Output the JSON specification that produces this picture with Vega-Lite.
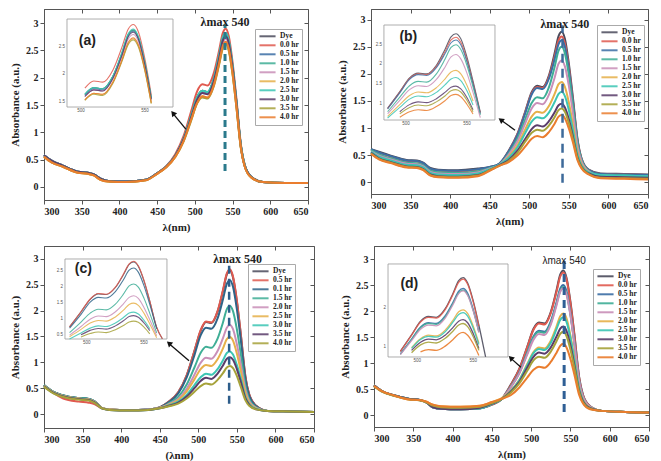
{
  "$schema": "https://vega.github.io/schema/vega-lite/v6.json",
  "padding": {"left": 9, "top": 8, "right": 3, "bottom": 3},
  "background": "white",
  "config": {
    "view": {"stroke": "#555", "strokeWidth": 1},
    "axis": {"labelFont": "Liberation Serif", "labelFontWeight": "bold", "labelFontSize": 10, "labelColor": "#222", "titleFont": "Liberation Serif", "titleFontWeight": "bold", "titleFontSize": 11, "titleColor": "#222", "grid": false, "domainColor": "#555", "tickColor": "#555", "tickSize": 4, "labelPadding": 2, "titlePadding": 5},
    "legend": {"labelFont": "Liberation Serif", "labelFontWeight": "bold", "labelFontSize": 7.5, "labelColor": "#222", "symbolType": "stroke", "symbolStrokeWidth": 2, "symbolSize": 260, "clipHeight": 8.6, "padding": 3, "strokeColor": "#aaa", "fillColor": "#fff", "rowPadding": 0, "labelOffset": 3}
  },
  "datasets": {
    "a": [
      {"wl":300,"Dye":0.58,"0_0 hr":0.58,"0_5 hr":0.58,"1_0 hr":0.58,"1_5 hr":0.58,"2_0 hr":0.55,"2_5 hr":0.58,"3_0 hr":0.58,"3_5 hr":0.55,"4_0 hr":0.55},
      {"wl":310,"Dye":0.48,"0_0 hr":0.48,"0_5 hr":0.48,"1_0 hr":0.48,"1_5 hr":0.48,"2_0 hr":0.45,"2_5 hr":0.48,"3_0 hr":0.48,"3_5 hr":0.45,"4_0 hr":0.45},
      {"wl":325,"Dye":0.39,"0_0 hr":0.39,"0_5 hr":0.39,"1_0 hr":0.39,"1_5 hr":0.39,"2_0 hr":0.37,"2_5 hr":0.39,"3_0 hr":0.39,"3_5 hr":0.37,"4_0 hr":0.37},
      {"wl":345,"Dye":0.28,"0_0 hr":0.28,"0_5 hr":0.28,"1_0 hr":0.28,"1_5 hr":0.28,"2_0 hr":0.26,"2_5 hr":0.28,"3_0 hr":0.28,"3_5 hr":0.26,"4_0 hr":0.26},
      {"wl":358,"Dye":0.26,"0_0 hr":0.26,"0_5 hr":0.26,"1_0 hr":0.26,"1_5 hr":0.26,"2_0 hr":0.24,"2_5 hr":0.26,"3_0 hr":0.26,"3_5 hr":0.24,"4_0 hr":0.24},
      {"wl":366,"Dye":0.23,"0_0 hr":0.23,"0_5 hr":0.23,"1_0 hr":0.23,"1_5 hr":0.23,"2_0 hr":0.21,"2_5 hr":0.23,"3_0 hr":0.23,"3_5 hr":0.21,"4_0 hr":0.21},
      {"wl":375,"Dye":0.15,"0_0 hr":0.15,"0_5 hr":0.15,"1_0 hr":0.15,"1_5 hr":0.15,"2_0 hr":0.13,"2_5 hr":0.15,"3_0 hr":0.15,"3_5 hr":0.13,"4_0 hr":0.13},
      {"wl":385,"Dye":0.11,"0_0 hr":0.11,"0_5 hr":0.11,"1_0 hr":0.11,"1_5 hr":0.11,"2_0 hr":0.10,"2_5 hr":0.11,"3_0 hr":0.11,"3_5 hr":0.10,"4_0 hr":0.10},
      {"wl":410,"Dye":0.10,"0_0 hr":0.10,"0_5 hr":0.10,"1_0 hr":0.10,"1_5 hr":0.10,"2_0 hr":0.09,"2_5 hr":0.10,"3_0 hr":0.10,"3_5 hr":0.09,"4_0 hr":0.09},
      {"wl":435,"Dye":0.13,"0_0 hr":0.13,"0_5 hr":0.13,"1_0 hr":0.13,"1_5 hr":0.13,"2_0 hr":0.12,"2_5 hr":0.13,"3_0 hr":0.13,"3_5 hr":0.12,"4_0 hr":0.12},
      {"wl":450,"Dye":0.25,"0_0 hr":0.25,"0_5 hr":0.25,"1_0 hr":0.25,"1_5 hr":0.25,"2_0 hr":0.24,"2_5 hr":0.25,"3_0 hr":0.25,"3_5 hr":0.24,"4_0 hr":0.24},
      {"wl":462,"Dye":0.37,"0_0 hr":0.38,"0_5 hr":0.37,"1_0 hr":0.37,"1_5 hr":0.37,"2_0 hr":0.36,"2_5 hr":0.37,"3_0 hr":0.37,"3_5 hr":0.36,"4_0 hr":0.36},
      {"wl":474,"Dye":0.57,"0_0 hr":0.60,"0_5 hr":0.57,"1_0 hr":0.57,"1_5 hr":0.57,"2_0 hr":0.55,"2_5 hr":0.57,"3_0 hr":0.57,"3_5 hr":0.55,"4_0 hr":0.55},
      {"wl":485,"Dye":0.88,"0_0 hr":0.93,"0_5 hr":0.87,"1_0 hr":0.88,"1_5 hr":0.87,"2_0 hr":0.84,"2_5 hr":0.88,"3_0 hr":0.87,"3_5 hr":0.83,"4_0 hr":0.84},
      {"wl":495,"Dye":1.30,"0_0 hr":1.38,"0_5 hr":1.28,"1_0 hr":1.30,"1_5 hr":1.27,"2_0 hr":1.23,"2_5 hr":1.30,"3_0 hr":1.27,"3_5 hr":1.21,"4_0 hr":1.23},
      {"wl":503,"Dye":1.64,"0_0 hr":1.75,"0_5 hr":1.62,"1_0 hr":1.64,"1_5 hr":1.60,"2_0 hr":1.54,"2_5 hr":1.64,"3_0 hr":1.60,"3_5 hr":1.53,"4_0 hr":1.54},
      {"wl":510,"Dye":1.76,"0_0 hr":1.88,"0_5 hr":1.74,"1_0 hr":1.76,"1_5 hr":1.72,"2_0 hr":1.66,"2_5 hr":1.76,"3_0 hr":1.72,"3_5 hr":1.64,"4_0 hr":1.66},
      {"wl":517,"Dye":1.74,"0_0 hr":1.86,"0_5 hr":1.72,"1_0 hr":1.74,"1_5 hr":1.70,"2_0 hr":1.64,"2_5 hr":1.74,"3_0 hr":1.70,"3_5 hr":1.62,"4_0 hr":1.64},
      {"wl":525,"Dye":1.97,"0_0 hr":2.08,"0_5 hr":1.95,"1_0 hr":1.97,"1_5 hr":1.92,"2_0 hr":1.86,"2_5 hr":1.97,"3_0 hr":1.93,"3_5 hr":1.84,"4_0 hr":1.86},
      {"wl":532,"Dye":2.38,"0_0 hr":2.49,"0_5 hr":2.36,"1_0 hr":2.38,"1_5 hr":2.32,"2_0 hr":2.25,"2_5 hr":2.40,"3_0 hr":2.34,"3_5 hr":2.23,"4_0 hr":2.26},
      {"wl":537,"Dye":2.72,"0_0 hr":2.82,"0_5 hr":2.70,"1_0 hr":2.72,"1_5 hr":2.64,"2_0 hr":2.56,"2_5 hr":2.74,"3_0 hr":2.68,"3_5 hr":2.54,"4_0 hr":2.58},
      {"wl":541,"Dye":2.80,"0_0 hr":2.90,"0_5 hr":2.78,"1_0 hr":2.80,"1_5 hr":2.72,"2_0 hr":2.64,"2_5 hr":2.82,"3_0 hr":2.76,"3_5 hr":2.62,"4_0 hr":2.66},
      {"wl":545,"Dye":2.66,"0_0 hr":2.76,"0_5 hr":2.64,"1_0 hr":2.66,"1_5 hr":2.59,"2_0 hr":2.51,"2_5 hr":2.68,"3_0 hr":2.63,"3_5 hr":2.49,"4_0 hr":2.53},
      {"wl":550,"Dye":2.20,"0_0 hr":2.28,"0_5 hr":2.18,"1_0 hr":2.20,"1_5 hr":2.14,"2_0 hr":2.07,"2_5 hr":2.22,"3_0 hr":2.17,"3_5 hr":2.06,"4_0 hr":2.09},
      {"wl":555,"Dye":1.57,"0_0 hr":1.63,"0_5 hr":1.56,"1_0 hr":1.57,"1_5 hr":1.53,"2_0 hr":1.48,"2_5 hr":1.58,"3_0 hr":1.55,"3_5 hr":1.47,"4_0 hr":1.49},
      {"wl":561,"Dye":0.75,"0_0 hr":0.78,"0_5 hr":0.75,"1_0 hr":0.75,"1_5 hr":0.73,"2_0 hr":0.71,"2_5 hr":0.76,"3_0 hr":0.74,"3_5 hr":0.71,"4_0 hr":0.72},
      {"wl":566,"Dye":0.40,"0_0 hr":0.41,"0_5 hr":0.40,"1_0 hr":0.40,"1_5 hr":0.39,"2_0 hr":0.38,"2_5 hr":0.40,"3_0 hr":0.39,"3_5 hr":0.38,"4_0 hr":0.38},
      {"wl":575,"Dye":0.18,"0_0 hr":0.18,"0_5 hr":0.18,"1_0 hr":0.18,"1_5 hr":0.18,"2_0 hr":0.17,"2_5 hr":0.18,"3_0 hr":0.18,"3_5 hr":0.17,"4_0 hr":0.17},
      {"wl":590,"Dye":0.09,"0_0 hr":0.09,"0_5 hr":0.09,"1_0 hr":0.09,"1_5 hr":0.09,"2_0 hr":0.09,"2_5 hr":0.09,"3_0 hr":0.09,"3_5 hr":0.09,"4_0 hr":0.09},
      {"wl":620,"Dye":0.07,"0_0 hr":0.07,"0_5 hr":0.07,"1_0 hr":0.07,"1_5 hr":0.07,"2_0 hr":0.07,"2_5 hr":0.07,"3_0 hr":0.07,"3_5 hr":0.07,"4_0 hr":0.07},
      {"wl":650,"Dye":0.07,"0_0 hr":0.07,"0_5 hr":0.07,"1_0 hr":0.07,"1_5 hr":0.07,"2_0 hr":0.07,"2_5 hr":0.07,"3_0 hr":0.07,"3_5 hr":0.07,"4_0 hr":0.07}
    ],
    "b": [
      {"wl":300,"Dye":0.61,"0_0 hr":0.60,"0_5 hr":0.61,"1_0 hr":0.59,"1_5 hr":0.57,"2_0 hr":0.55,"2_5 hr":0.56,"3_0 hr":0.54,"3_5 hr":0.53,"4_0 hr":0.52},
      {"wl":310,"Dye":0.56,"0_0 hr":0.54,"0_5 hr":0.55,"1_0 hr":0.51,"1_5 hr":0.49,"2_0 hr":0.45,"2_5 hr":0.47,"3_0 hr":0.44,"3_5 hr":0.43,"4_0 hr":0.42},
      {"wl":325,"Dye":0.49,"0_0 hr":0.47,"0_5 hr":0.48,"1_0 hr":0.44,"1_5 hr":0.42,"2_0 hr":0.38,"2_5 hr":0.40,"3_0 hr":0.37,"3_5 hr":0.36,"4_0 hr":0.35},
      {"wl":345,"Dye":0.41,"0_0 hr":0.39,"0_5 hr":0.40,"1_0 hr":0.36,"1_5 hr":0.34,"2_0 hr":0.30,"2_5 hr":0.32,"3_0 hr":0.29,"3_5 hr":0.28,"4_0 hr":0.27},
      {"wl":358,"Dye":0.40,"0_0 hr":0.38,"0_5 hr":0.39,"1_0 hr":0.35,"1_5 hr":0.33,"2_0 hr":0.29,"2_5 hr":0.31,"3_0 hr":0.28,"3_5 hr":0.27,"4_0 hr":0.26},
      {"wl":366,"Dye":0.36,"0_0 hr":0.34,"0_5 hr":0.35,"1_0 hr":0.31,"1_5 hr":0.29,"2_0 hr":0.25,"2_5 hr":0.27,"3_0 hr":0.24,"3_5 hr":0.23,"4_0 hr":0.22},
      {"wl":375,"Dye":0.26,"0_0 hr":0.24,"0_5 hr":0.25,"1_0 hr":0.21,"1_5 hr":0.19,"2_0 hr":0.15,"2_5 hr":0.17,"3_0 hr":0.14,"3_5 hr":0.13,"4_0 hr":0.12},
      {"wl":385,"Dye":0.23,"0_0 hr":0.21,"0_5 hr":0.22,"1_0 hr":0.18,"1_5 hr":0.16,"2_0 hr":0.12,"2_5 hr":0.14,"3_0 hr":0.11,"3_5 hr":0.10,"4_0 hr":0.09},
      {"wl":410,"Dye":0.22,"0_0 hr":0.20,"0_5 hr":0.21,"1_0 hr":0.17,"1_5 hr":0.15,"2_0 hr":0.11,"2_5 hr":0.13,"3_0 hr":0.10,"3_5 hr":0.09,"4_0 hr":0.08},
      {"wl":435,"Dye":0.25,"0_0 hr":0.23,"0_5 hr":0.24,"1_0 hr":0.20,"1_5 hr":0.18,"2_0 hr":0.14,"2_5 hr":0.16,"3_0 hr":0.13,"3_5 hr":0.12,"4_0 hr":0.11},
      {"wl":450,"Dye":0.28,"0_0 hr":0.27,"0_5 hr":0.28,"1_0 hr":0.26,"1_5 hr":0.25,"2_0 hr":0.23,"2_5 hr":0.24,"3_0 hr":0.22,"3_5 hr":0.22,"4_0 hr":0.21},
      {"wl":462,"Dye":0.34,"0_0 hr":0.33,"0_5 hr":0.34,"1_0 hr":0.32,"1_5 hr":0.32,"2_0 hr":0.31,"2_5 hr":0.32,"3_0 hr":0.31,"3_5 hr":0.30,"4_0 hr":0.30},
      {"wl":474,"Dye":0.58,"0_0 hr":0.57,"0_5 hr":0.57,"1_0 hr":0.53,"1_5 hr":0.51,"2_0 hr":0.47,"2_5 hr":0.45,"3_0 hr":0.41,"3_5 hr":0.39,"4_0 hr":0.37},
      {"wl":485,"Dye":0.89,"0_0 hr":0.88,"0_5 hr":0.87,"1_0 hr":0.80,"1_5 hr":0.75,"2_0 hr":0.68,"2_5 hr":0.64,"3_0 hr":0.58,"3_5 hr":0.54,"4_0 hr":0.49},
      {"wl":495,"Dye":1.31,"0_0 hr":1.30,"0_5 hr":1.28,"1_0 hr":1.17,"1_5 hr":1.09,"2_0 hr":0.98,"2_5 hr":0.91,"3_0 hr":0.80,"3_5 hr":0.75,"4_0 hr":0.66},
      {"wl":503,"Dye":1.66,"0_0 hr":1.64,"0_5 hr":1.62,"1_0 hr":1.46,"1_5 hr":1.36,"2_0 hr":1.21,"2_5 hr":1.12,"3_0 hr":0.98,"3_5 hr":0.91,"4_0 hr":0.80},
      {"wl":510,"Dye":1.78,"0_0 hr":1.76,"0_5 hr":1.74,"1_0 hr":1.57,"1_5 hr":1.46,"2_0 hr":1.30,"2_5 hr":1.20,"3_0 hr":1.05,"3_5 hr":0.97,"4_0 hr":0.85},
      {"wl":517,"Dye":1.76,"0_0 hr":1.74,"0_5 hr":1.72,"1_0 hr":1.55,"1_5 hr":1.44,"2_0 hr":1.28,"2_5 hr":1.18,"3_0 hr":1.03,"3_5 hr":0.95,"4_0 hr":0.83},
      {"wl":525,"Dye":1.98,"0_0 hr":1.95,"0_5 hr":1.92,"1_0 hr":1.76,"1_5 hr":1.62,"2_0 hr":1.41,"2_5 hr":1.29,"3_0 hr":1.13,"3_5 hr":1.05,"4_0 hr":0.93},
      {"wl":532,"Dye":2.38,"0_0 hr":2.32,"0_5 hr":2.27,"1_0 hr":2.13,"1_5 hr":1.93,"2_0 hr":1.63,"2_5 hr":1.48,"3_0 hr":1.29,"3_5 hr":1.20,"4_0 hr":1.08},
      {"wl":537,"Dye":2.70,"0_0 hr":2.62,"0_5 hr":2.55,"1_0 hr":2.43,"1_5 hr":2.19,"2_0 hr":1.81,"2_5 hr":1.63,"3_0 hr":1.42,"3_5 hr":1.33,"4_0 hr":1.21},
      {"wl":541,"Dye":2.78,"0_0 hr":2.69,"0_5 hr":2.62,"1_0 hr":2.50,"1_5 hr":2.25,"2_0 hr":1.85,"2_5 hr":1.67,"3_0 hr":1.45,"3_5 hr":1.36,"4_0 hr":1.24},
      {"wl":545,"Dye":2.65,"0_0 hr":2.56,"0_5 hr":2.50,"1_0 hr":2.38,"1_5 hr":2.14,"2_0 hr":1.76,"2_5 hr":1.59,"3_0 hr":1.38,"3_5 hr":1.30,"4_0 hr":1.18},
      {"wl":550,"Dye":2.19,"0_0 hr":2.12,"0_5 hr":2.07,"1_0 hr":1.98,"1_5 hr":1.78,"2_0 hr":1.47,"2_5 hr":1.33,"3_0 hr":1.16,"3_5 hr":1.09,"4_0 hr":0.99},
      {"wl":555,"Dye":1.58,"0_0 hr":1.53,"0_5 hr":1.50,"1_0 hr":1.43,"1_5 hr":1.29,"2_0 hr":1.07,"2_5 hr":0.97,"3_0 hr":0.85,"3_5 hr":0.80,"4_0 hr":0.74},
      {"wl":561,"Dye":0.79,"0_0 hr":0.76,"0_5 hr":0.75,"1_0 hr":0.72,"1_5 hr":0.65,"2_0 hr":0.55,"2_5 hr":0.51,"3_0 hr":0.45,"3_5 hr":0.43,"4_0 hr":0.40},
      {"wl":566,"Dye":0.44,"0_0 hr":0.43,"0_5 hr":0.42,"1_0 hr":0.41,"1_5 hr":0.38,"2_0 hr":0.33,"2_5 hr":0.31,"3_0 hr":0.28,"3_5 hr":0.27,"4_0 hr":0.25},
      {"wl":575,"Dye":0.23,"0_0 hr":0.22,"0_5 hr":0.22,"1_0 hr":0.21,"1_5 hr":0.20,"2_0 hr":0.18,"2_5 hr":0.18,"3_0 hr":0.16,"3_5 hr":0.15,"4_0 hr":0.14},
      {"wl":590,"Dye":0.16,"0_0 hr":0.15,"0_5 hr":0.15,"1_0 hr":0.13,"1_5 hr":0.12,"2_0 hr":0.10,"2_5 hr":0.13,"3_0 hr":0.10,"3_5 hr":0.08,"4_0 hr":0.07},
      {"wl":620,"Dye":0.15,"0_0 hr":0.14,"0_5 hr":0.14,"1_0 hr":0.12,"1_5 hr":0.11,"2_0 hr":0.09,"2_5 hr":0.12,"3_0 hr":0.09,"3_5 hr":0.07,"4_0 hr":0.06},
      {"wl":650,"Dye":0.14,"0_0 hr":0.13,"0_5 hr":0.13,"1_0 hr":0.11,"1_5 hr":0.10,"2_0 hr":0.08,"2_5 hr":0.11,"3_0 hr":0.08,"3_5 hr":0.06,"4_0 hr":0.05}
    ],
    "c": [
      {"wl":300,"Dye":0.56,"0_5 hr":0.55,"0_1 hr":0.56,"1_5 hr":0.56,"2_0 hr":0.55,"2_5 hr":0.55,"3_0 hr":0.54,"3_5 hr":0.54,"4_0 hr":0.53},
      {"wl":310,"Dye":0.45,"0_5 hr":0.43,"0_1 hr":0.45,"1_5 hr":0.45,"2_0 hr":0.44,"2_5 hr":0.44,"3_0 hr":0.43,"3_5 hr":0.43,"4_0 hr":0.42},
      {"wl":325,"Dye":0.36,"0_5 hr":0.30,"0_1 hr":0.36,"1_5 hr":0.36,"2_0 hr":0.35,"2_5 hr":0.35,"3_0 hr":0.34,"3_5 hr":0.34,"4_0 hr":0.33},
      {"wl":345,"Dye":0.31,"0_5 hr":0.24,"0_1 hr":0.31,"1_5 hr":0.31,"2_0 hr":0.30,"2_5 hr":0.30,"3_0 hr":0.29,"3_5 hr":0.29,"4_0 hr":0.28},
      {"wl":358,"Dye":0.29,"0_5 hr":0.22,"0_1 hr":0.29,"1_5 hr":0.29,"2_0 hr":0.28,"2_5 hr":0.28,"3_0 hr":0.27,"3_5 hr":0.27,"4_0 hr":0.26},
      {"wl":366,"Dye":0.24,"0_5 hr":0.19,"0_1 hr":0.24,"1_5 hr":0.24,"2_0 hr":0.23,"2_5 hr":0.23,"3_0 hr":0.22,"3_5 hr":0.22,"4_0 hr":0.21},
      {"wl":375,"Dye":0.12,"0_5 hr":0.11,"0_1 hr":0.12,"1_5 hr":0.12,"2_0 hr":0.12,"2_5 hr":0.12,"3_0 hr":0.11,"3_5 hr":0.11,"4_0 hr":0.11},
      {"wl":385,"Dye":0.09,"0_5 hr":0.09,"0_1 hr":0.09,"1_5 hr":0.09,"2_0 hr":0.09,"2_5 hr":0.09,"3_0 hr":0.08,"3_5 hr":0.08,"4_0 hr":0.08},
      {"wl":410,"Dye":0.08,"0_5 hr":0.08,"0_1 hr":0.08,"1_5 hr":0.08,"2_0 hr":0.08,"2_5 hr":0.08,"3_0 hr":0.07,"3_5 hr":0.07,"4_0 hr":0.07},
      {"wl":435,"Dye":0.09,"0_5 hr":0.09,"0_1 hr":0.09,"1_5 hr":0.09,"2_0 hr":0.09,"2_5 hr":0.08,"3_0 hr":0.08,"3_5 hr":0.08,"4_0 hr":0.08},
      {"wl":450,"Dye":0.13,"0_5 hr":0.13,"0_1 hr":0.13,"1_5 hr":0.12,"2_0 hr":0.12,"2_5 hr":0.12,"3_0 hr":0.11,"3_5 hr":0.11,"4_0 hr":0.11},
      {"wl":462,"Dye":0.24,"0_5 hr":0.24,"0_1 hr":0.23,"1_5 hr":0.21,"2_0 hr":0.19,"2_5 hr":0.18,"3_0 hr":0.17,"3_5 hr":0.16,"4_0 hr":0.15},
      {"wl":474,"Dye":0.42,"0_5 hr":0.42,"0_1 hr":0.40,"1_5 hr":0.33,"2_0 hr":0.29,"2_5 hr":0.27,"3_0 hr":0.24,"3_5 hr":0.22,"4_0 hr":0.20},
      {"wl":485,"Dye":0.75,"0_5 hr":0.75,"0_1 hr":0.71,"1_5 hr":0.57,"2_0 hr":0.49,"2_5 hr":0.44,"3_0 hr":0.37,"3_5 hr":0.34,"4_0 hr":0.30},
      {"wl":495,"Dye":1.22,"0_5 hr":1.22,"0_1 hr":1.14,"1_5 hr":0.90,"2_0 hr":0.76,"2_5 hr":0.67,"3_0 hr":0.56,"3_5 hr":0.50,"4_0 hr":0.43},
      {"wl":503,"Dye":1.61,"0_5 hr":1.62,"0_1 hr":1.52,"1_5 hr":1.18,"2_0 hr":0.99,"2_5 hr":0.87,"3_0 hr":0.71,"3_5 hr":0.64,"4_0 hr":0.54},
      {"wl":510,"Dye":1.78,"0_5 hr":1.79,"0_1 hr":1.67,"1_5 hr":1.30,"2_0 hr":1.09,"2_5 hr":0.95,"3_0 hr":0.78,"3_5 hr":0.70,"4_0 hr":0.59},
      {"wl":517,"Dye":1.76,"0_5 hr":1.77,"0_1 hr":1.65,"1_5 hr":1.28,"2_0 hr":1.07,"2_5 hr":0.93,"3_0 hr":0.76,"3_5 hr":0.68,"4_0 hr":0.57},
      {"wl":525,"Dye":1.98,"0_5 hr":1.99,"0_1 hr":1.85,"1_5 hr":1.46,"2_0 hr":1.22,"2_5 hr":1.06,"3_0 hr":0.87,"3_5 hr":0.78,"4_0 hr":0.66},
      {"wl":532,"Dye":2.38,"0_5 hr":2.40,"0_1 hr":2.22,"1_5 hr":1.77,"2_0 hr":1.47,"2_5 hr":1.27,"3_0 hr":1.04,"3_5 hr":0.94,"4_0 hr":0.79},
      {"wl":537,"Dye":2.70,"0_5 hr":2.72,"0_1 hr":2.52,"1_5 hr":2.03,"2_0 hr":1.67,"2_5 hr":1.45,"3_0 hr":1.18,"3_5 hr":1.07,"4_0 hr":0.90},
      {"wl":541,"Dye":2.78,"0_5 hr":2.80,"0_1 hr":2.59,"1_5 hr":2.09,"2_0 hr":1.72,"2_5 hr":1.49,"3_0 hr":1.21,"3_5 hr":1.10,"4_0 hr":0.93},
      {"wl":545,"Dye":2.64,"0_5 hr":2.66,"0_1 hr":2.46,"1_5 hr":1.99,"2_0 hr":1.64,"2_5 hr":1.42,"3_0 hr":1.15,"3_5 hr":1.05,"4_0 hr":0.89},
      {"wl":550,"Dye":2.18,"0_5 hr":2.20,"0_1 hr":2.03,"1_5 hr":1.64,"2_0 hr":1.35,"2_5 hr":1.17,"3_0 hr":0.95,"3_5 hr":0.87,"4_0 hr":0.74},
      {"wl":555,"Dye":1.55,"0_5 hr":1.56,"0_1 hr":1.45,"1_5 hr":1.17,"2_0 hr":0.97,"2_5 hr":0.84,"3_0 hr":0.69,"3_5 hr":0.63,"4_0 hr":0.53},
      {"wl":561,"Dye":0.73,"0_5 hr":0.74,"0_1 hr":0.69,"1_5 hr":0.56,"2_0 hr":0.47,"2_5 hr":0.41,"3_0 hr":0.34,"3_5 hr":0.31,"4_0 hr":0.27},
      {"wl":566,"Dye":0.38,"0_5 hr":0.38,"0_1 hr":0.35,"1_5 hr":0.29,"2_0 hr":0.25,"2_5 hr":0.22,"3_0 hr":0.19,"3_5 hr":0.18,"4_0 hr":0.16},
      {"wl":575,"Dye":0.16,"0_5 hr":0.16,"0_1 hr":0.15,"1_5 hr":0.13,"2_0 hr":0.12,"2_5 hr":0.11,"3_0 hr":0.10,"3_5 hr":0.09,"4_0 hr":0.09},
      {"wl":590,"Dye":0.06,"0_5 hr":0.06,"0_1 hr":0.06,"1_5 hr":0.06,"2_0 hr":0.06,"2_5 hr":0.06,"3_0 hr":0.06,"3_5 hr":0.06,"4_0 hr":0.06},
      {"wl":620,"Dye":0.05,"0_5 hr":0.05,"0_1 hr":0.05,"1_5 hr":0.05,"2_0 hr":0.05,"2_5 hr":0.05,"3_0 hr":0.05,"3_5 hr":0.05,"4_0 hr":0.05},
      {"wl":650,"Dye":0.04,"0_5 hr":0.04,"0_1 hr":0.04,"1_5 hr":0.04,"2_0 hr":0.04,"2_5 hr":0.04,"3_0 hr":0.04,"3_5 hr":0.04,"4_0 hr":0.04}
    ],
    "d": [
      {"wl":300,"Dye":0.57,"0_0 hr":0.57,"0_5 hr":0.57,"1_0 hr":0.57,"1_5 hr":0.57,"2_0 hr":0.57,"2_5 hr":0.57,"3_0 hr":0.57,"3_5 hr":0.55,"4_0 hr":0.56},
      {"wl":310,"Dye":0.46,"0_0 hr":0.46,"0_5 hr":0.46,"1_0 hr":0.46,"1_5 hr":0.46,"2_0 hr":0.46,"2_5 hr":0.46,"3_0 hr":0.46,"3_5 hr":0.45,"4_0 hr":0.46},
      {"wl":325,"Dye":0.38,"0_0 hr":0.38,"0_5 hr":0.38,"1_0 hr":0.38,"1_5 hr":0.38,"2_0 hr":0.38,"2_5 hr":0.38,"3_0 hr":0.38,"3_5 hr":0.37,"4_0 hr":0.38},
      {"wl":345,"Dye":0.31,"0_0 hr":0.31,"0_5 hr":0.31,"1_0 hr":0.31,"1_5 hr":0.31,"2_0 hr":0.30,"2_5 hr":0.31,"3_0 hr":0.31,"3_5 hr":0.30,"4_0 hr":0.30},
      {"wl":358,"Dye":0.29,"0_0 hr":0.29,"0_5 hr":0.29,"1_0 hr":0.29,"1_5 hr":0.29,"2_0 hr":0.29,"2_5 hr":0.29,"3_0 hr":0.29,"3_5 hr":0.28,"4_0 hr":0.29},
      {"wl":366,"Dye":0.25,"0_0 hr":0.25,"0_5 hr":0.25,"1_0 hr":0.25,"1_5 hr":0.25,"2_0 hr":0.26,"2_5 hr":0.25,"3_0 hr":0.25,"3_5 hr":0.25,"4_0 hr":0.26},
      {"wl":375,"Dye":0.15,"0_0 hr":0.15,"0_5 hr":0.15,"1_0 hr":0.15,"1_5 hr":0.15,"2_0 hr":0.20,"2_5 hr":0.15,"3_0 hr":0.15,"3_5 hr":0.18,"4_0 hr":0.20},
      {"wl":385,"Dye":0.12,"0_0 hr":0.12,"0_5 hr":0.12,"1_0 hr":0.12,"1_5 hr":0.12,"2_0 hr":0.17,"2_5 hr":0.12,"3_0 hr":0.12,"3_5 hr":0.15,"4_0 hr":0.17},
      {"wl":410,"Dye":0.11,"0_0 hr":0.11,"0_5 hr":0.11,"1_0 hr":0.11,"1_5 hr":0.11,"2_0 hr":0.16,"2_5 hr":0.11,"3_0 hr":0.11,"3_5 hr":0.14,"4_0 hr":0.16},
      {"wl":435,"Dye":0.13,"0_0 hr":0.13,"0_5 hr":0.13,"1_0 hr":0.13,"1_5 hr":0.14,"2_0 hr":0.18,"2_5 hr":0.13,"3_0 hr":0.14,"3_5 hr":0.16,"4_0 hr":0.18},
      {"wl":450,"Dye":0.20,"0_0 hr":0.20,"0_5 hr":0.21,"1_0 hr":0.21,"1_5 hr":0.22,"2_0 hr":0.25,"2_5 hr":0.21,"3_0 hr":0.22,"3_5 hr":0.23,"4_0 hr":0.25},
      {"wl":462,"Dye":0.30,"0_0 hr":0.30,"0_5 hr":0.30,"1_0 hr":0.30,"1_5 hr":0.31,"2_0 hr":0.32,"2_5 hr":0.30,"3_0 hr":0.30,"3_5 hr":0.30,"4_0 hr":0.31},
      {"wl":474,"Dye":0.58,"0_0 hr":0.57,"0_5 hr":0.54,"1_0 hr":0.54,"1_5 hr":0.53,"2_0 hr":0.47,"2_5 hr":0.46,"3_0 hr":0.45,"3_5 hr":0.43,"4_0 hr":0.38},
      {"wl":485,"Dye":0.89,"0_0 hr":0.88,"0_5 hr":0.82,"1_0 hr":0.81,"1_5 hr":0.80,"2_0 hr":0.68,"2_5 hr":0.67,"3_0 hr":0.64,"3_5 hr":0.61,"4_0 hr":0.53},
      {"wl":495,"Dye":1.31,"0_0 hr":1.30,"0_5 hr":1.20,"1_0 hr":1.19,"1_5 hr":1.16,"2_0 hr":0.98,"2_5 hr":0.96,"3_0 hr":0.91,"3_5 hr":0.85,"4_0 hr":0.72},
      {"wl":503,"Dye":1.66,"0_0 hr":1.64,"0_5 hr":1.51,"1_0 hr":1.49,"1_5 hr":1.45,"2_0 hr":1.21,"2_5 hr":1.19,"3_0 hr":1.12,"3_5 hr":1.05,"4_0 hr":0.87},
      {"wl":510,"Dye":1.78,"0_0 hr":1.76,"0_5 hr":1.62,"1_0 hr":1.60,"1_5 hr":1.56,"2_0 hr":1.30,"2_5 hr":1.27,"3_0 hr":1.20,"3_5 hr":1.12,"4_0 hr":0.93},
      {"wl":517,"Dye":1.76,"0_0 hr":1.74,"0_5 hr":1.60,"1_0 hr":1.58,"1_5 hr":1.54,"2_0 hr":1.28,"2_5 hr":1.25,"3_0 hr":1.18,"3_5 hr":1.10,"4_0 hr":0.91},
      {"wl":525,"Dye":1.98,"0_0 hr":1.96,"0_5 hr":1.80,"1_0 hr":1.77,"1_5 hr":1.74,"2_0 hr":1.43,"2_5 hr":1.39,"3_0 hr":1.30,"3_5 hr":1.22,"4_0 hr":1.02},
      {"wl":532,"Dye":2.38,"0_0 hr":2.35,"0_5 hr":2.15,"1_0 hr":2.12,"1_5 hr":2.09,"2_0 hr":1.69,"2_5 hr":1.64,"3_0 hr":1.50,"3_5 hr":1.41,"4_0 hr":1.19},
      {"wl":537,"Dye":2.70,"0_0 hr":2.66,"0_5 hr":2.43,"1_0 hr":2.39,"1_5 hr":2.37,"2_0 hr":1.90,"2_5 hr":1.83,"3_0 hr":1.66,"3_5 hr":1.56,"4_0 hr":1.33},
      {"wl":541,"Dye":2.78,"0_0 hr":2.74,"0_5 hr":2.50,"1_0 hr":2.46,"1_5 hr":2.44,"2_0 hr":1.95,"2_5 hr":1.88,"3_0 hr":1.70,"3_5 hr":1.60,"4_0 hr":1.37},
      {"wl":545,"Dye":2.64,"0_0 hr":2.61,"0_5 hr":2.38,"1_0 hr":2.34,"1_5 hr":2.32,"2_0 hr":1.86,"2_5 hr":1.79,"3_0 hr":1.62,"3_5 hr":1.52,"4_0 hr":1.30},
      {"wl":550,"Dye":2.18,"0_0 hr":2.15,"0_5 hr":1.96,"1_0 hr":1.93,"1_5 hr":1.92,"2_0 hr":1.53,"2_5 hr":1.48,"3_0 hr":1.34,"3_5 hr":1.26,"4_0 hr":1.08},
      {"wl":555,"Dye":1.56,"0_0 hr":1.53,"0_5 hr":1.40,"1_0 hr":1.38,"1_5 hr":1.37,"2_0 hr":1.10,"2_5 hr":1.06,"3_0 hr":0.96,"3_5 hr":0.91,"4_0 hr":0.78},
      {"wl":561,"Dye":0.74,"0_0 hr":0.73,"0_5 hr":0.67,"1_0 hr":0.66,"1_5 hr":0.66,"2_0 hr":0.53,"2_5 hr":0.52,"3_0 hr":0.47,"3_5 hr":0.45,"4_0 hr":0.39},
      {"wl":566,"Dye":0.39,"0_0 hr":0.38,"0_5 hr":0.35,"1_0 hr":0.35,"1_5 hr":0.35,"2_0 hr":0.29,"2_5 hr":0.28,"3_0 hr":0.26,"3_5 hr":0.24,"4_0 hr":0.22},
      {"wl":575,"Dye":0.17,"0_0 hr":0.17,"0_5 hr":0.16,"1_0 hr":0.16,"1_5 hr":0.16,"2_0 hr":0.14,"2_5 hr":0.13,"3_0 hr":0.13,"3_5 hr":0.12,"4_0 hr":0.11},
      {"wl":590,"Dye":0.08,"0_0 hr":0.08,"0_5 hr":0.08,"1_0 hr":0.08,"1_5 hr":0.08,"2_0 hr":0.08,"2_5 hr":0.08,"3_0 hr":0.08,"3_5 hr":0.08,"4_0 hr":0.08},
      {"wl":620,"Dye":0.06,"0_0 hr":0.06,"0_5 hr":0.06,"1_0 hr":0.06,"1_5 hr":0.06,"2_0 hr":0.06,"2_5 hr":0.06,"3_0 hr":0.06,"3_5 hr":0.06,"4_0 hr":0.06},
      {"wl":650,"Dye":0.05,"0_0 hr":0.05,"0_5 hr":0.05,"1_0 hr":0.05,"1_5 hr":0.05,"2_0 hr":0.05,"2_5 hr":0.05,"3_0 hr":0.05,"3_5 hr":0.05,"4_0 hr":0.05}
    ]
  },
  "vconcat": [
    {
      "hconcat": [
        {
          "width": 264, "height": 191,
          "data": {"name": "a"},
          "layer": [
            {
              "transform": [{"fold": ["Dye","0_0 hr","0_5 hr","1_0 hr","1_5 hr","2_0 hr","2_5 hr","3_0 hr","3_5 hr","4_0 hr"], "as": ["s", "A"]}],
              "mark": {"type": "line", "strokeWidth": 2, "interpolate": "monotone"},
              "encoding": {
                "x": {"field": "wl", "type": "quantitative", "scale": {"domain": [300, 650], "nice": false, "zero": false}, "axis": {"values": [300,350,400,450,500,550,600,650], "title": "λ(nm)"}},
                "y": {"field": "A", "type": "quantitative", "scale": {"domain": [-0.24, 3.26], "nice": false, "zero": false}, "axis": {"values": [0,0.5,1,1.5,2,2.5,3], "format": "~g", "title": "Absorbance (a.u.)"}},
                "color": {"field": "s", "type": "nominal", "scale": {"domain": ["Dye","0_0 hr","0_5 hr","1_0 hr","1_5 hr","2_0 hr","2_5 hr","3_0 hr","3_5 hr","4_0 hr"], "range": ["#4b4b5c","#e05a4f","#3b6ea5","#3fae96","#c98fb8","#e6b04a","#3cc6b4","#5a3d6b","#a6a23a","#ea7d2e"]}, "legend": {"title": null, "orient": "none", "legendX": 211, "legendY": 20, "labelExpr": "replace(datum.label, '_', '.')"}}
              }
            },
            {
              "data": {"values": [{}]},
              "mark": {"type": "rule", "color": "#2b7a8c", "strokeWidth": 3, "strokeDash": [7, 4]},
              "encoding": {
                "x": {"datum": 540, "type": "quantitative", "scale": {"domain": [300, 650], "nice": false, "zero": false}, "axis": {"orient": "top", "labels": false, "title": null, "domain": false, "tickSize": -4, "values": [300,350,400,450,500,550,600,650]}},
                "y": {"datum": 0.29, "type": "quantitative", "scale": {"domain": [-0.24, 3.26], "nice": false, "zero": false}, "axis": {"orient": "right", "labels": false, "title": null, "domain": false, "tickSize": -4, "values": [0,0.5,1,1.5,2,2.5,3]}},
                "y2": {"datum": 2.98}
              }
            },
            {
              "data": {"values": [{}]},
              "mark": {"type": "text", "text": "λmax 540", "font": "Liberation Serif", "fontWeight": "bold", "fontSize": 12, "color": "#222"},
              "encoding": {
                "x": {"datum": 540, "type": "quantitative", "scale": {"domain": [300, 650], "nice": false, "zero": false}, "axis": null},
                "y": {"datum": 3.02, "type": "quantitative", "scale": {"domain": [-0.24, 3.26], "nice": false, "zero": false}, "axis": null}
              }
            },
            {
              "data": {"values": [{}]},
              "mark": {"type": "rule", "color": "#111", "strokeWidth": 1.3},
              "encoding": {
                "x": {"datum": 488, "type": "quantitative", "scale": {"domain": [300, 650], "nice": false, "zero": false}, "axis": null},
                "x2": {"datum": 472},
                "y": {"datum": 1.06, "type": "quantitative", "scale": {"domain": [-0.24, 3.26], "nice": false, "zero": false}, "axis": null},
                "y2": {"datum": 1.33}
              }
            },
            {
              "data": {"values": [{}]},
              "mark": {"type": "point", "shape": "triangle-up", "filled": true, "color": "#111", "size": 40, "angle": 321, "opacity": 1},
              "encoding": {
                "x": {"datum": 471, "type": "quantitative", "scale": {"domain": [300, 650], "nice": false, "zero": false}, "axis": null},
                "y": {"datum": 1.35, "type": "quantitative", "scale": {"domain": [-0.24, 3.26], "nice": false, "zero": false}, "axis": null}
              }
            },
            {
              "data": {"values": [{}]},
              "mark": {"type": "rect", "fill": "#fff", "stroke": "#999", "strokeWidth": 0.8},
              "encoding": {
                "x": {"datum": 489, "type": "quantitative", "scale": {"domain": [471.0, 677.7], "nice": false, "zero": false}, "axis": null},
                "x2": {"datum": 572},
                "y": {"datum": 1.41, "type": "quantitative", "scale": {"domain": [-0.27, 3.181], "nice": false, "zero": false}, "axis": null},
                "y2": {"datum": 3.0}
              }
            },
            {
              "transform": [{"fold": ["Dye","0_0 hr","0_5 hr","1_0 hr","1_5 hr","2_0 hr","2_5 hr","3_0 hr","3_5 hr","4_0 hr"], "as": ["s", "A"]}, {"filter": {"field": "wl", "range": [489, 572]}}, {"filter": "datum.A >= 1.41"}],
              "mark": {"type": "line", "strokeWidth": 1.1, "interpolate": "monotone", "opacity": 0.85},
              "encoding": {
                "x": {"field": "wl", "type": "quantitative", "scale": {"domain": [471.0, 677.7], "nice": false, "zero": false}, "axis": null},
                "y": {"field": "A", "type": "quantitative", "scale": {"domain": [-0.27, 3.181], "nice": false, "zero": false}, "axis": null},
                "color": {"field": "s", "type": "nominal", "scale": {"domain": ["Dye","0_0 hr","0_5 hr","1_0 hr","1_5 hr","2_0 hr","2_5 hr","3_0 hr","3_5 hr","4_0 hr"], "range": ["#4b4b5c","#e05a4f","#3b6ea5","#3fae96","#c98fb8","#e6b04a","#3cc6b4","#5a3d6b","#a6a23a","#ea7d2e"]}}
              }
            },
            {
              "data": {"values": [{"v": 500}, {"v": 550}]},
              "mark": {"type": "text", "fontSize": 4.5, "color": "#555", "font": "Liberation Sans", "dy": 4},
              "encoding": {
                "x": {"field": "v", "type": "quantitative", "scale": {"domain": [471.0, 677.7], "nice": false, "zero": false}, "axis": null},
                "y": {"datum": 1.41, "type": "quantitative", "scale": {"domain": [-0.27, 3.181], "nice": false, "zero": false}, "axis": null},
                "text": {"field": "v", "type": "quantitative", "format": "~g"}
              }
            },
            {
              "data": {"values": [{"v": 1.5}, {"v": 2}, {"v": 2.5}]},
              "mark": {"type": "text", "fontSize": 4.5, "color": "#555", "font": "Liberation Sans", "align": "right", "dx": -2},
              "encoding": {
                "x": {"datum": 489, "type": "quantitative", "scale": {"domain": [471.0, 677.7], "nice": false, "zero": false}, "axis": null},
                "y": {"field": "v", "type": "quantitative", "scale": {"domain": [-0.27, 3.181], "nice": false, "zero": false}, "axis": null},
                "text": {"field": "v", "type": "quantitative", "format": "~g"}
              }
            },
            {
              "data": {"values": [{}]},
              "mark": {"type": "text", "text": "(a)", "font": "Liberation Sans", "fontWeight": "bold", "fontSize": 14, "color": "#222"},
              "encoding": {
                "x": {"datum": 505, "type": "quantitative", "scale": {"domain": [471.0, 677.7], "nice": false, "zero": false}, "axis": null},
                "y": {"datum": 2.6, "type": "quantitative", "scale": {"domain": [-0.27, 3.181], "nice": false, "zero": false}, "axis": null}
              }
            }
          ],
          "resolve": {"scale": {"x": "independent", "y": "independent"}}
        },
        {
          "width": 277, "height": 185,
          "data": {"name": "b"},
          "layer": [
            {
              "transform": [{"fold": ["Dye","0_0 hr","0_5 hr","1_0 hr","1_5 hr","2_0 hr","2_5 hr","3_0 hr","3_5 hr","4_0 hr"], "as": ["s", "A"]}],
              "mark": {"type": "line", "strokeWidth": 2, "interpolate": "monotone"},
              "encoding": {
                "x": {"field": "wl", "type": "quantitative", "scale": {"domain": [300, 650], "nice": false, "zero": false}, "axis": {"values": [300,350,400,450,500,550,600,650], "title": "λ(nm)"}},
                "y": {"field": "A", "type": "quantitative", "scale": {"domain": [-0.22, 3.2], "nice": false, "zero": false}, "axis": {"values": [0,0.5,1,1.5,2,2.5,3], "format": "~g", "title": "Absorbance (a.u.)"}},
                "color": {"field": "s", "type": "nominal", "scale": {"domain": ["Dye","0_0 hr","0_5 hr","1_0 hr","1_5 hr","2_0 hr","2_5 hr","3_0 hr","3_5 hr","4_0 hr"], "range": ["#4b4b5c","#e05a4f","#3b6ea5","#3fae96","#c98fb8","#e6b04a","#3cc6b4","#5a3d6b","#a6a23a","#ea7d2e"]}, "legend": {"title": null, "orient": "none", "legendX": 226, "legendY": 16, "labelExpr": "replace(datum.label, '_', '.')"}}
              }
            },
            {
              "data": {"values": [{}]},
              "mark": {"type": "rule", "color": "#3d6a9a", "strokeWidth": 2.5, "strokeDash": [9, 6]},
              "encoding": {
                "x": {"datum": 542, "type": "quantitative", "scale": {"domain": [300, 650], "nice": false, "zero": false}, "axis": {"orient": "top", "labels": false, "title": null, "domain": false, "tickSize": -4, "values": [300,350,400,450,500,550,600,650]}},
                "y": {"datum": -0.01, "type": "quantitative", "scale": {"domain": [-0.22, 3.2], "nice": false, "zero": false}, "axis": {"orient": "right", "labels": false, "title": null, "domain": false, "tickSize": -4, "values": [0,0.5,1,1.5,2,2.5,3]}},
                "y2": {"datum": 2.9}
              }
            },
            {
              "data": {"values": [{}]},
              "mark": {"type": "text", "text": "λmax 540", "font": "Liberation Serif", "fontWeight": "bold", "fontSize": 12, "color": "#222"},
              "encoding": {
                "x": {"datum": 545, "type": "quantitative", "scale": {"domain": [300, 650], "nice": false, "zero": false}, "axis": null},
                "y": {"datum": 2.93, "type": "quantitative", "scale": {"domain": [-0.22, 3.2], "nice": false, "zero": false}, "axis": null}
              }
            },
            {
              "data": {"values": [{}]},
              "mark": {"type": "rule", "color": "#111", "strokeWidth": 1.3},
              "encoding": {
                "x": {"datum": 482, "type": "quantitative", "scale": {"domain": [300, 650], "nice": false, "zero": false}, "axis": null},
                "x2": {"datum": 465},
                "y": {"datum": 0.96, "type": "quantitative", "scale": {"domain": [-0.22, 3.2], "nice": false, "zero": false}, "axis": null},
                "y2": {"datum": 1.14}
              }
            },
            {
              "data": {"values": [{}]},
              "mark": {"type": "point", "shape": "triangle-up", "filled": true, "color": "#111", "size": 40, "angle": 306, "opacity": 1},
              "encoding": {
                "x": {"datum": 464, "type": "quantitative", "scale": {"domain": [300, 650], "nice": false, "zero": false}, "axis": null},
                "y": {"datum": 1.15, "type": "quantitative", "scale": {"domain": [-0.22, 3.2], "nice": false, "zero": false}, "axis": null}
              }
            },
            {
              "data": {"values": [{}]},
              "mark": {"type": "rect", "fill": "#fff", "stroke": "#999", "strokeWidth": 0.8},
              "encoding": {
                "x": {"datum": 482, "type": "quantitative", "scale": {"domain": [471.4, 698.4], "nice": false, "zero": false}, "axis": null},
                "x2": {"datum": 573},
                "y": {"datum": 0.59, "type": "quantitative", "scale": {"domain": [-1.287, 3.406], "nice": false, "zero": false}, "axis": null},
                "y2": {"datum": 3.0}
              }
            },
            {
              "transform": [{"fold": ["Dye","0_0 hr","0_5 hr","1_0 hr","1_5 hr","2_0 hr","2_5 hr","3_0 hr","3_5 hr","4_0 hr"], "as": ["s", "A"]}, {"filter": {"field": "wl", "range": [482, 573]}}, {"filter": "datum.A >= 0.59"}],
              "mark": {"type": "line", "strokeWidth": 1.1, "interpolate": "monotone", "opacity": 0.85},
              "encoding": {
                "x": {"field": "wl", "type": "quantitative", "scale": {"domain": [471.4, 698.4], "nice": false, "zero": false}, "axis": null},
                "y": {"field": "A", "type": "quantitative", "scale": {"domain": [-1.287, 3.406], "nice": false, "zero": false}, "axis": null},
                "color": {"field": "s", "type": "nominal", "scale": {"domain": ["Dye","0_0 hr","0_5 hr","1_0 hr","1_5 hr","2_0 hr","2_5 hr","3_0 hr","3_5 hr","4_0 hr"], "range": ["#4b4b5c","#e05a4f","#3b6ea5","#3fae96","#c98fb8","#e6b04a","#3cc6b4","#5a3d6b","#a6a23a","#ea7d2e"]}}
              }
            },
            {
              "data": {"values": [{"v": 500}, {"v": 550}]},
              "mark": {"type": "text", "fontSize": 4.5, "color": "#555", "font": "Liberation Sans", "dy": 4},
              "encoding": {
                "x": {"field": "v", "type": "quantitative", "scale": {"domain": [471.4, 698.4], "nice": false, "zero": false}, "axis": null},
                "y": {"datum": 0.59, "type": "quantitative", "scale": {"domain": [-1.287, 3.406], "nice": false, "zero": false}, "axis": null},
                "text": {"field": "v", "type": "quantitative", "format": "~g"}
              }
            },
            {
              "data": {"values": [{"v": 1}, {"v": 1.5}, {"v": 2}, {"v": 2.5}]},
              "mark": {"type": "text", "fontSize": 4.5, "color": "#555", "font": "Liberation Sans", "align": "right", "dx": -2},
              "encoding": {
                "x": {"datum": 482, "type": "quantitative", "scale": {"domain": [471.4, 698.4], "nice": false, "zero": false}, "axis": null},
                "y": {"field": "v", "type": "quantitative", "scale": {"domain": [-1.287, 3.406], "nice": false, "zero": false}, "axis": null},
                "text": {"field": "v", "type": "quantitative", "format": "~g"}
              }
            },
            {
              "data": {"values": [{}]},
              "mark": {"type": "text", "text": "(b)", "font": "Liberation Sans", "fontWeight": "bold", "fontSize": 14, "color": "#222"},
              "encoding": {
                "x": {"datum": 502, "type": "quantitative", "scale": {"domain": [471.4, 698.4], "nice": false, "zero": false}, "axis": null},
                "y": {"datum": 2.7, "type": "quantitative", "scale": {"domain": [-1.287, 3.406], "nice": false, "zero": false}, "axis": null}
              }
            }
          ],
          "resolve": {"scale": {"x": "independent", "y": "independent"}}
        }
      ],
      "spacing": 23,
      "resolve": {"scale": {"color": "independent"}, "legend": {"color": "independent"}}
    },
    {
      "hconcat": [
        {
          "width": 270, "height": 182,
          "data": {"name": "c"},
          "layer": [
            {
              "transform": [{"fold": ["Dye","0_5 hr","0_1 hr","1_5 hr","2_0 hr","2_5 hr","3_0 hr","3_5 hr","4_0 hr"], "as": ["s", "A"]}],
              "mark": {"type": "line", "strokeWidth": 2, "interpolate": "monotone"},
              "encoding": {
                "x": {"field": "wl", "type": "quantitative", "scale": {"domain": [300, 650], "nice": false, "zero": false}, "axis": {"values": [300,350,400,450,500,550,600,650], "title": "(λnm)"}},
                "y": {"field": "A", "type": "quantitative", "scale": {"domain": [-0.27, 3.25], "nice": false, "zero": false}, "axis": {"values": [0,0.5,1,1.5,2,2.5,3], "format": "~g", "title": "Absorbance (a.u.)"}},
                "color": {"field": "s", "type": "nominal", "scale": {"domain": ["Dye","0_5 hr","0_1 hr","1_5 hr","2_0 hr","2_5 hr","3_0 hr","3_5 hr","4_0 hr"], "range": ["#4b4b5c","#e05a4f","#2f6488","#3fae96","#c98fb8","#e6b04a","#3cc6b4","#5a3d6b","#a6a23a"]}, "legend": {"title": null, "orient": "none", "legendX": 204, "legendY": 18, "labelExpr": "replace(datum.label, '_', '.')"}}
              }
            },
            {
              "data": {"values": [{}]},
              "mark": {"type": "rule", "color": "#2d5d8a", "strokeWidth": 2.5, "strokeDash": [8, 5]},
              "encoding": {
                "x": {"datum": 540, "type": "quantitative", "scale": {"domain": [300, 650], "nice": false, "zero": false}, "axis": {"orient": "top", "labels": false, "title": null, "domain": false, "tickSize": -4, "values": [300,350,400,450,500,550,600,650]}},
                "y": {"datum": 0.2, "type": "quantitative", "scale": {"domain": [-0.27, 3.25], "nice": false, "zero": false}, "axis": {"orient": "right", "labels": false, "title": null, "domain": false, "tickSize": -4, "values": [0,0.5,1,1.5,2,2.5,3]}},
                "y2": {"datum": 2.92}
              }
            },
            {
              "data": {"values": [{}]},
              "mark": {"type": "text", "text": "λmax 540", "font": "Liberation Serif", "fontWeight": "bold", "fontSize": 12, "color": "#222"},
              "encoding": {
                "x": {"datum": 551, "type": "quantitative", "scale": {"domain": [300, 650], "nice": false, "zero": false}, "axis": null},
                "y": {"datum": 3.0, "type": "quantitative", "scale": {"domain": [-0.27, 3.25], "nice": false, "zero": false}, "axis": null}
              }
            },
            {
              "data": {"values": [{}]},
              "mark": {"type": "rule", "color": "#111", "strokeWidth": 1.3},
              "encoding": {
                "x": {"datum": 488, "type": "quantitative", "scale": {"domain": [300, 650], "nice": false, "zero": false}, "axis": null},
                "x2": {"datum": 463},
                "y": {"datum": 1.03, "type": "quantitative", "scale": {"domain": [-0.27, 3.25], "nice": false, "zero": false}, "axis": null},
                "y2": {"datum": 1.35}
              }
            },
            {
              "data": {"values": [{}]},
              "mark": {"type": "point", "shape": "triangle-up", "filled": true, "color": "#111", "size": 40, "angle": 311, "opacity": 1},
              "encoding": {
                "x": {"datum": 462, "type": "quantitative", "scale": {"domain": [300, 650], "nice": false, "zero": false}, "axis": null},
                "y": {"datum": 1.37, "type": "quantitative", "scale": {"domain": [-0.27, 3.25], "nice": false, "zero": false}, "axis": null}
              }
            },
            {
              "data": {"values": [{}]},
              "mark": {"type": "rect", "fill": "#fff", "stroke": "#999", "strokeWidth": 0.8},
              "encoding": {
                "x": {"datum": 481, "type": "quantitative", "scale": {"domain": [462.7, 698.3], "nice": false, "zero": false}, "axis": null},
                "x2": {"datum": 570},
                "y": {"datum": 0.37, "type": "quantitative", "scale": {"domain": [-2.411, 3.276], "nice": false, "zero": false}, "axis": null},
                "y2": {"datum": 2.87}
              }
            },
            {
              "transform": [{"fold": ["Dye","0_5 hr","0_1 hr","1_5 hr","2_0 hr","2_5 hr","3_0 hr","3_5 hr","4_0 hr"], "as": ["s", "A"]}, {"filter": {"field": "wl", "range": [481, 570]}}, {"filter": "datum.A >= 0.37"}],
              "mark": {"type": "line", "strokeWidth": 1.1, "interpolate": "monotone", "opacity": 0.85},
              "encoding": {
                "x": {"field": "wl", "type": "quantitative", "scale": {"domain": [462.7, 698.3], "nice": false, "zero": false}, "axis": null},
                "y": {"field": "A", "type": "quantitative", "scale": {"domain": [-2.411, 3.276], "nice": false, "zero": false}, "axis": null},
                "color": {"field": "s", "type": "nominal", "scale": {"domain": ["Dye","0_5 hr","0_1 hr","1_5 hr","2_0 hr","2_5 hr","3_0 hr","3_5 hr","4_0 hr"], "range": ["#4b4b5c","#e05a4f","#2f6488","#3fae96","#c98fb8","#e6b04a","#3cc6b4","#5a3d6b","#a6a23a"]}}
              }
            },
            {
              "data": {"values": [{"v": 500}, {"v": 550}]},
              "mark": {"type": "text", "fontSize": 4.5, "color": "#555", "font": "Liberation Sans", "dy": 4},
              "encoding": {
                "x": {"field": "v", "type": "quantitative", "scale": {"domain": [462.7, 698.3], "nice": false, "zero": false}, "axis": null},
                "y": {"datum": 0.37, "type": "quantitative", "scale": {"domain": [-2.411, 3.276], "nice": false, "zero": false}, "axis": null},
                "text": {"field": "v", "type": "quantitative", "format": "~g"}
              }
            },
            {
              "data": {"values": [{"v": 0.5}, {"v": 1}, {"v": 1.5}, {"v": 2}, {"v": 2.5}]},
              "mark": {"type": "text", "fontSize": 4.5, "color": "#555", "font": "Liberation Sans", "align": "right", "dx": -2},
              "encoding": {
                "x": {"datum": 481, "type": "quantitative", "scale": {"domain": [462.7, 698.3], "nice": false, "zero": false}, "axis": null},
                "y": {"field": "v", "type": "quantitative", "scale": {"domain": [-2.411, 3.276], "nice": false, "zero": false}, "axis": null},
                "text": {"field": "v", "type": "quantitative", "format": "~g"}
              }
            },
            {
              "data": {"values": [{}]},
              "mark": {"type": "text", "text": "(c)", "font": "Liberation Sans", "fontWeight": "bold", "fontSize": 14, "color": "#222"},
              "encoding": {
                "x": {"datum": 497, "type": "quantitative", "scale": {"domain": [462.7, 698.3], "nice": false, "zero": false}, "axis": null},
                "y": {"datum": 2.56, "type": "quantitative", "scale": {"domain": [-2.411, 3.276], "nice": false, "zero": false}, "axis": null}
              }
            }
          ],
          "resolve": {"scale": {"x": "independent", "y": "independent"}}
        },
        {
          "width": 275, "height": 181,
          "data": {"name": "d"},
          "layer": [
            {
              "transform": [{"fold": ["Dye","0_0 hr","0_5 hr","1_0 hr","1_5 hr","2_0 hr","2_5 hr","3_0 hr","3_5 hr","4_0 hr"], "as": ["s", "A"]}],
              "mark": {"type": "line", "strokeWidth": 2, "interpolate": "monotone"},
              "encoding": {
                "x": {"field": "wl", "type": "quantitative", "scale": {"domain": [300, 650], "nice": false, "zero": false}, "axis": {"values": [300,350,400,450,500,550,600,650], "title": "λ(nm)"}},
                "y": {"field": "A", "type": "quantitative", "scale": {"domain": [-0.23, 3.25], "nice": false, "zero": false}, "axis": {"values": [0,0.5,1,1.5,2,2.5,3], "format": "~g", "title": "Absorbance (a.u.)"}},
                "color": {"field": "s", "type": "nominal", "scale": {"domain": ["Dye","0_0 hr","0_5 hr","1_0 hr","1_5 hr","2_0 hr","2_5 hr","3_0 hr","3_5 hr","4_0 hr"], "range": ["#4b4b5c","#e05a4f","#3b6ea5","#3fae96","#c98fb8","#e6b04a","#3cc6b4","#5a3d6b","#a6a23a","#ea7d2e"]}, "legend": {"title": null, "orient": "none", "legendX": 219, "legendY": 23, "labelExpr": "replace(datum.label, '_', '.')"}}
              }
            },
            {
              "data": {"values": [{}]},
              "mark": {"type": "rule", "color": "#2f5f95", "strokeWidth": 3, "strokeDash": [8, 5]},
              "encoding": {
                "x": {"datum": 542, "type": "quantitative", "scale": {"domain": [300, 650], "nice": false, "zero": false}, "axis": {"orient": "top", "labels": false, "title": null, "domain": false, "tickSize": -4, "values": [300,350,400,450,500,550,600,650]}},
                "y": {"datum": 0.06, "type": "quantitative", "scale": {"domain": [-0.23, 3.25], "nice": false, "zero": false}, "axis": {"orient": "right", "labels": false, "title": null, "domain": false, "tickSize": -4, "values": [0,0.5,1,1.5,2,2.5,3]}},
                "y2": {"datum": 2.97}
              }
            },
            {
              "data": {"values": [{}]},
              "mark": {"type": "text", "text": "λmax 540", "font": "Liberation Sans", "fontSize": 10, "color": "#222"},
              "encoding": {
                "x": {"datum": 542, "type": "quantitative", "scale": {"domain": [300, 650], "nice": false, "zero": false}, "axis": null},
                "y": {"datum": 2.96, "type": "quantitative", "scale": {"domain": [-0.23, 3.25], "nice": false, "zero": false}, "axis": null}
              }
            },
            {
              "data": {"values": [{}]},
              "mark": {"type": "rule", "color": "#111", "strokeWidth": 1.3},
              "encoding": {
                "x": {"datum": 487, "type": "quantitative", "scale": {"domain": [300, 650], "nice": false, "zero": false}, "axis": null},
                "x2": {"datum": 475},
                "y": {"datum": 0.92, "type": "quantitative", "scale": {"domain": [-0.23, 3.25], "nice": false, "zero": false}, "axis": null},
                "y2": {"datum": 1.08}
              }
            },
            {
              "data": {"values": [{}]},
              "mark": {"type": "point", "shape": "triangle-up", "filled": true, "color": "#111", "size": 40, "angle": 313, "opacity": 1},
              "encoding": {
                "x": {"datum": 474, "type": "quantitative", "scale": {"domain": [300, 650], "nice": false, "zero": false}, "axis": null},
                "y": {"datum": 1.1, "type": "quantitative", "scale": {"domain": [-0.23, 3.25], "nice": false, "zero": false}, "axis": null}
              }
            },
            {
              "data": {"values": [{}]},
              "mark": {"type": "rect", "fill": "#fff", "stroke": "#999", "strokeWidth": 0.8},
              "encoding": {
                "x": {"datum": 474, "type": "quantitative", "scale": {"domain": [461.5, 706.7], "nice": false, "zero": false}, "axis": null},
                "x2": {"datum": 581},
                "y": {"datum": 0.74, "type": "quantitative", "scale": {"domain": [-1.059, 3.592], "nice": false, "zero": false}, "axis": null},
                "y2": {"datum": 3.13}
              }
            },
            {
              "transform": [{"fold": ["Dye","0_0 hr","0_5 hr","1_0 hr","1_5 hr","2_0 hr","2_5 hr","3_0 hr","3_5 hr","4_0 hr"], "as": ["s", "A"]}, {"filter": {"field": "wl", "range": [474, 581]}}, {"filter": "datum.A >= 0.74"}],
              "mark": {"type": "line", "strokeWidth": 1.3, "interpolate": "monotone", "opacity": 0.9},
              "encoding": {
                "x": {"field": "wl", "type": "quantitative", "scale": {"domain": [461.5, 706.7], "nice": false, "zero": false}, "axis": null},
                "y": {"field": "A", "type": "quantitative", "scale": {"domain": [-1.059, 3.592], "nice": false, "zero": false}, "axis": null},
                "color": {"field": "s", "type": "nominal", "scale": {"domain": ["Dye","0_0 hr","0_5 hr","1_0 hr","1_5 hr","2_0 hr","2_5 hr","3_0 hr","3_5 hr","4_0 hr"], "range": ["#4b4b5c","#e05a4f","#3b6ea5","#3fae96","#c98fb8","#e6b04a","#3cc6b4","#5a3d6b","#a6a23a","#ea7d2e"]}}
              }
            },
            {
              "data": {"values": [{"v": 500}, {"v": 550}]},
              "mark": {"type": "text", "fontSize": 4.5, "color": "#555", "font": "Liberation Sans", "dy": 4},
              "encoding": {
                "x": {"field": "v", "type": "quantitative", "scale": {"domain": [461.5, 706.7], "nice": false, "zero": false}, "axis": null},
                "y": {"datum": 0.74, "type": "quantitative", "scale": {"domain": [-1.059, 3.592], "nice": false, "zero": false}, "axis": null},
                "text": {"field": "v", "type": "quantitative", "format": "~g"}
              }
            },
            {
              "data": {"values": [{"v": 1}, {"v": 2}]},
              "mark": {"type": "text", "fontSize": 4.5, "color": "#555", "font": "Liberation Sans", "align": "right", "dx": -2},
              "encoding": {
                "x": {"datum": 474, "type": "quantitative", "scale": {"domain": [461.5, 706.7], "nice": false, "zero": false}, "axis": null},
                "y": {"field": "v", "type": "quantitative", "scale": {"domain": [-1.059, 3.592], "nice": false, "zero": false}, "axis": null},
                "text": {"field": "v", "type": "quantitative", "format": "~g"}
              }
            },
            {
              "data": {"values": [{}]},
              "mark": {"type": "text", "text": "(d)", "font": "Liberation Sans", "fontWeight": "bold", "fontSize": 14, "color": "#222"},
              "encoding": {
                "x": {"datum": 493, "type": "quantitative", "scale": {"domain": [461.5, 706.7], "nice": false, "zero": false}, "axis": null},
                "y": {"datum": 2.62, "type": "quantitative", "scale": {"domain": [-1.059, 3.592], "nice": false, "zero": false}, "axis": null}
              }
            }
          ],
          "resolve": {"scale": {"x": "independent", "y": "independent"}}
        }
      ],
      "spacing": 20,
      "resolve": {"scale": {"color": "independent"}, "legend": {"color": "independent"}}
    }
  ],
  "spacing": 12,
  "resolve": {"scale": {"color": "independent"}, "legend": {"color": "independent"}}
}
